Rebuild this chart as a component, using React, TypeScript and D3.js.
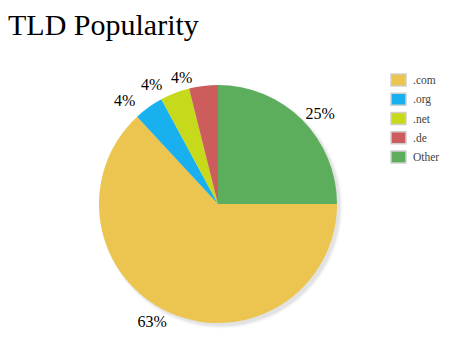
import React from "react";
import * as d3 from "d3";

const categories = [".com", ".org", ".net", ".de", "Other"];
const values = [63.1, 4.0, 4.0, 3.9, 25.0];
const colors = ["#ecc551", "#18b0ef", "#c6d91a", "#cd5c5c", "#5cae5d"];
const title = "TLD Popularity";

const W = 457;
const H = 354;
const cx = 218;
const cy = 204;
const R = 119;
const LR = 128;
const serif = "'Liberation Serif', 'Times New Roman', serif";

export default function App() {
  const total = d3.sum(values);
  const pie = d3
    .pie<number>()
    .sort(null)
    .value((d) => d)
    .startAngle(Math.PI / 2)
    .endAngle(Math.PI / 2 + 2 * Math.PI);
  const arcs = pie(values);
  const arc = d3.arc<d3.PieArcDatum<number>>().innerRadius(0).outerRadius(R);

  return (
    <svg
      width={W}
      height={H}
      style={{ position: "absolute", left: 0, top: 0, background: "#fff" }}
    >
      <defs>
        <filter id="blur" x="-10%" y="-10%" width="120%" height="120%">
          <feGaussianBlur stdDeviation="1.2" />
        </filter>
      </defs>
      <text x={8} y={35} fontFamily={serif} fontSize={30} fill="#000">
        {title}
      </text>
      <circle cx={cx + 3} cy={cy + 3} r={R + 1} fill="#e2e2e2" filter="url(#blur)" />
      <g transform={`translate(${cx},${cy})`}>
        {arcs.map((a, i) => (
          <path key={i} d={arc(a) || ""} fill={colors[i]} />
        ))}
        {arcs.map((a, i) => {
          const mid = (a.startAngle + a.endAngle) / 2;
          const sx = Math.sin(mid);
          const sy = -Math.cos(mid);
          const left = sx < 0;
          const x = LR * sx + (left ? -10 * Math.max(0, -sy) : -3);
          const y = LR * sy;
          return (
            <text
              key={"l" + i}
              x={x}
              y={y}
              dy="0.35em"
              textAnchor={left ? "end" : "start"}
              fontFamily={serif}
              fontSize={16}
              fill="#000"
            >
              {Math.round((values[i] / total) * 100) + "%"}
            </text>
          );
        })}
      </g>
      <g transform="translate(391,74)">
        {categories.map((c, i) => (
          <g key={c} transform={`translate(0,${i * 19.25})`}>
            <rect x={0} y={0} width={15} height={12} fill={colors[i]} stroke="#d0d0d0" strokeWidth={1.5} />
            <text x={22} y={10} fontFamily={serif} fontSize={11.5} fill="#444">
              {c}
            </text>
          </g>
        ))}
      </g>
    </svg>
  );
}
